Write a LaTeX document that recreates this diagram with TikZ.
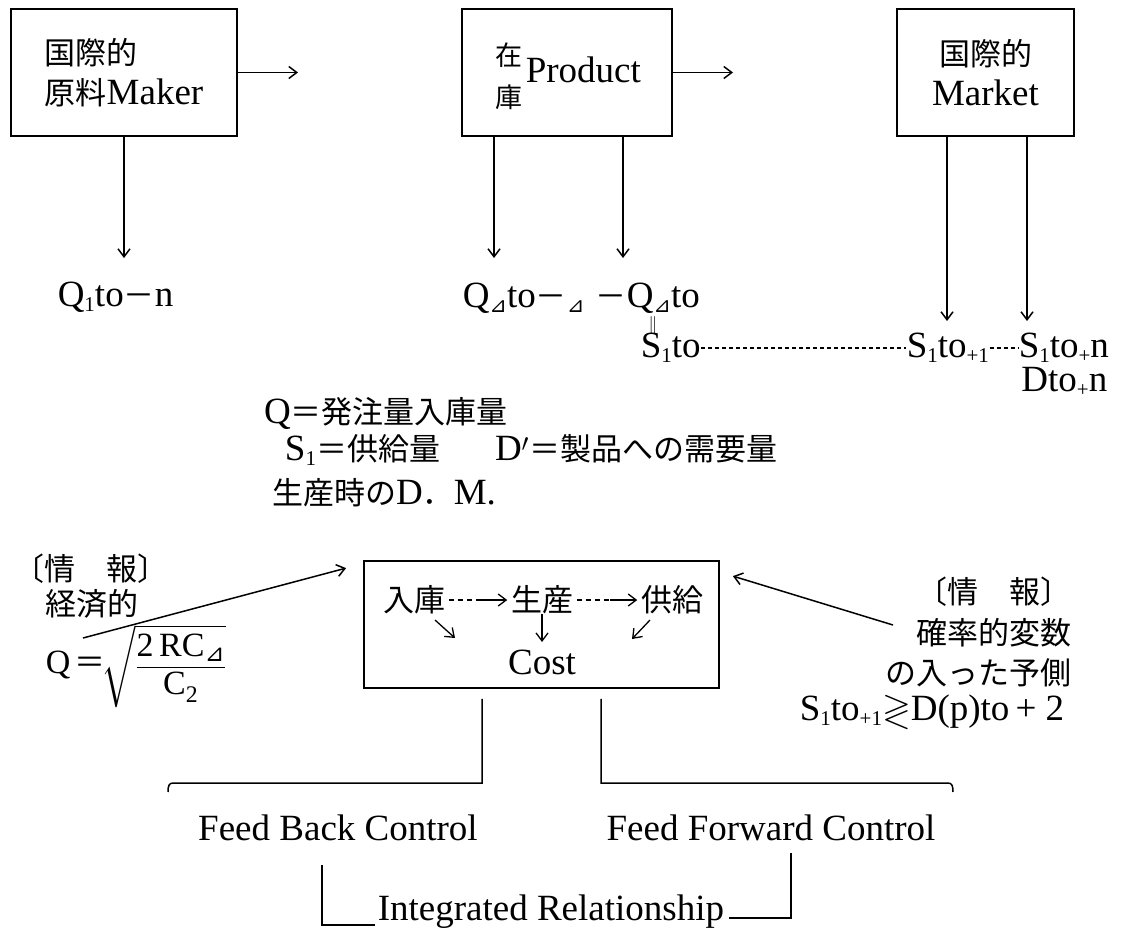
\documentclass[tikz,border=0pt]{standalone}
\usepackage{amsmath,amssymb}
\usepackage{fontspec}
\setmainfont{Liberation Serif}
\newfontfamily\cjkfont{Noto Sans CJK JP}
\newfontfamily\dvfont{DejaVu Sans}
\usetikzlibrary{arrows.meta,calc}
\newcommand\LT{\fontsize{37}{40}\selectfont}
\newcommand\CJ[1]{{\fontsize{31}{40}\selectfont\cjkfont #1}}
\newcommand\lowsub[1]{\raisebox{-5pt}{\fontsize{21}{21}\selectfont #1}}
\newcommand\trisub{{\dvfont ⊿}}
\begin{document}
\begin{tikzpicture}[x=1pt,y=-1pt,line width=1.5pt,
  >={Straight Barb[length=8pt,width=12pt]},
  bx/.style={draw,line width=1.8pt,minimum width=#1,minimum height=127pt,inner sep=0pt},
  lbl/.style={font=\LT,inner sep=0pt},
  dotline/.style={line width=1.1pt,dash pattern=on 4pt off 3pt},
  thin arrow/.style={->,line width=1.3pt}]
\useasboundingbox (0,0) rectangle (1143,929);

% ---------- top boxes ----------
\node[bx=226pt,align=left,font=\LT] (b1) at (124,72.5) {\CJ{国際的}\\\CJ{原料}Maker};
\node[bx=210pt] (b2) at (567,72.5) {};
\node[inner sep=0pt,align=center,font=\fontsize{27}{42}\selectfont\cjkfont] (zk) at (508.5,76) {在\\庫};
\node[lbl,anchor=base west] (prod) at (525,82) {Product};
\node[bx=177pt,align=center,font=\LT] (b3) at (985.5,72.5) {\CJ{国際的}\\Market};

\coordinate (a1) at (298,72.5);
\coordinate (a2) at (733,72.5);
\draw[->] (b1.east) -- (a1);
\draw[->] (b2.east) -- (a2);

% ---------- first row labels ----------
\node[lbl,anchor=west] (q1) at (57,297) {Q\lowsub{1}to\CJ{－}n};
\node[lbl,anchor=west] (qa) at (462,298) {Q\lowsub{\trisub}to\CJ{－}\lowsub{\trisub}};
\node[lbl,anchor=west] (qb) at (595,298) {\CJ{－}Q\lowsub{\trisub}to};
\node[inner sep=0pt,font=\fontsize{17}{17}\selectfont] (eqs) at (653,325) {$\Vert$};
\node[lbl,anchor=west] (s0) at (640,348) {S\lowsub{1}to};
\node[lbl,anchor=west] (s1) at (906,348) {S\lowsub{1}to\lowsub{+1}};
\node[lbl,anchor=west] (s2) at (1018,348) {S\lowsub{1}to\lowsub{+}n};
\node[lbl,anchor=east] (dn) at (1108,382) {Dto\lowsub{+}n};
\draw[dotline] (s0.east) -- (s1.west);
\draw[dotline] (s1.east) -- (s2.west);

\coordinate (e1) at (124,258);
\coordinate (e2) at (494,258);
\coordinate (e3) at (623,258);
\coordinate (e4) at (947,321);
\coordinate (e5) at (1027,321);
\draw[->] (b1.south) -- (e1);
\draw[->] (b2.south west -| e2) -- (e2);
\draw[->] (b2.south west -| e3) -- (e3);
\draw[->] (b3.south west -| e4) -- (e4);
\draw[->] (b3.south west -| e5) -- (e5);

% ---------- definitions ----------
\node[lbl] (qdef) at (386,413) {Q\CJ{＝発注量入庫量}};
\node[lbl] (sdef) at (531,450) {S\lowsub{1}\CJ{＝供給量}\hspace{55pt}D$'$\CJ{＝製品への需要量}};
\node[lbl] (dm) at (384,493) {\CJ{生産時の}D\CJ{．}M.};

% ---------- left information ----------
\node[lbl,anchor=west] (infL) at (13,569) {\CJ{〔情　報〕}};
\node[lbl,anchor=west] (keiz) at (45,604) {\CJ{経済的}};
\node[inner sep=0pt,anchor=west,font=\fontsize{34}{40}\selectfont] (eoq) at (45,666)
  {$\text{Q}\,\text{\CJ{＝}}\!\sqrt{\dfrac{\text{2\,RC}_{\text{\dvfont ⊿}}}{\text{C}_{\text{2}}}}$};

% ---------- centre box ----------
\node[bx=355pt] (cbox) at (541.5,624.5) {};
\node[lbl] (n1) at (414,600) {\CJ{入庫}};
\node[lbl] (n2) at (542,600) {\CJ{生産}};
\node[lbl] (n3) at (672,600) {\CJ{供給}};
\node[lbl] (cost) at (542,662) {Cost};
\draw[dash pattern=on 5pt off 4pt,line width=1.3pt,shorten <=3pt] (n1.east) -- ($(n1.east)!0.55!(n2.west)$) coordinate (m1);
\draw[thin arrow,shorten >=3pt] (m1) -- (n2.west);
\draw[dash pattern=on 5pt off 4pt,line width=1.3pt,shorten <=3pt] (n2.east) -- ($(n2.east)!0.55!(n3.west)$) coordinate (m2);
\draw[thin arrow,shorten >=3pt] (m2) -- (n3.west);
\draw[thin arrow] ($(n1)+(21,20)$) -- ($(n1)+(41,38)$);
\draw[thin arrow] ($(n2)+(0,14)$) -- ($(n2)+(0,42)$);
\draw[thin arrow] ($(n3)+(-22,20)$) -- ($(n3)+(-40,39)$);

% ---------- information arrows ----------
\coordinate (tL) at (83,638);
\draw[->] (tL) -- ($(cbox.north west)+(-17,8)$);
\coordinate (tR) at (893,625);
\draw[->] (tR) -- ($(cbox.north east)+(13,16)$);

% ---------- right information ----------
\node[lbl,anchor=east] (infR) at (1072,592) {\CJ{〔情　報〕}};
\node[lbl,anchor=east] (kak) at (1072,633) {\CJ{確率的変数}};
\node[lbl,anchor=east] (yos) at (1072,673) {\CJ{の入った予側}};
\node[lbl,anchor=east] (ineq) at (1065,712) {S\lowsub{1}to\lowsub{+1}$\gtrless$D(p)to\,+\ 2};

% ---------- controls ----------
\coordinate (c1) at ($(cbox.south)+(-59.5,10)$);
\coordinate (c2) at ($(cbox.south)+(59.5,10)$);
\draw (c1) |- (173,783) .. controls (169,783) and (168,786) .. (168,792);
\draw (c2) |- (948,783) .. controls (952,783) and (953,786) .. (953,792);
\node[lbl] (fbc) at (338,828) {Feed Back Control};
\node[lbl] (ffc) at (771,828) {Feed Forward Control};
\node[lbl,anchor=west] (ir) at (377,912) {Integrated Relationship};
\coordinate (g1) at (322,865);
\coordinate (g2) at (791,853);
\draw (g1) |- (375,925);
\draw (g2) |- (729,918);
\end{tikzpicture}
\end{document}
